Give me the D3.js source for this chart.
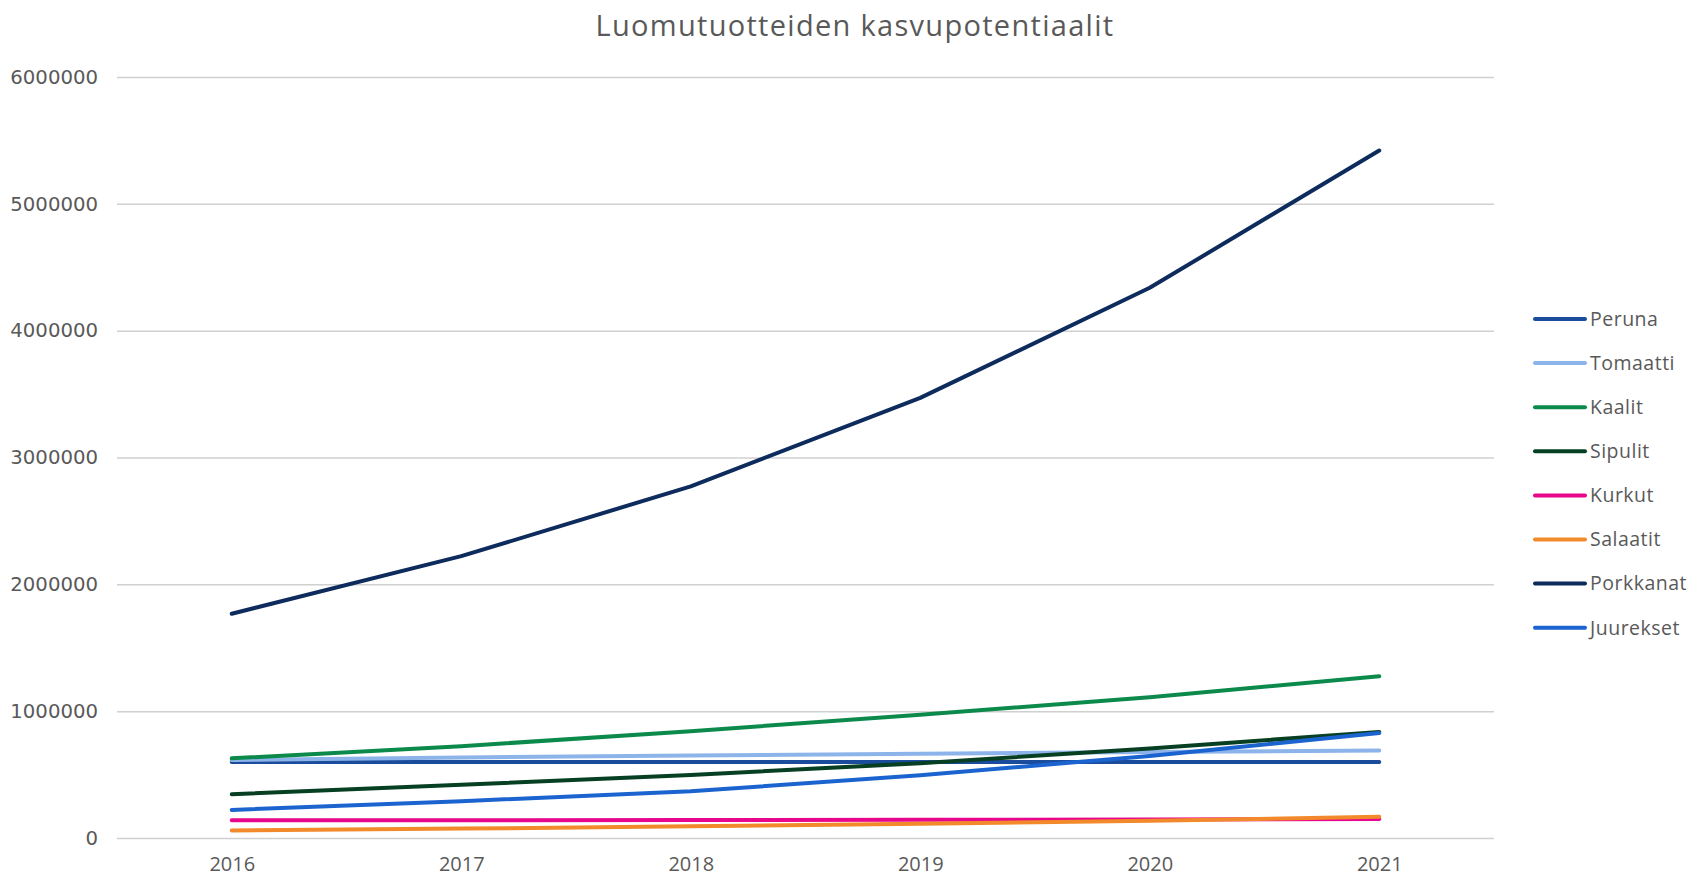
<!DOCTYPE html>
<html>
<head>
<meta charset="utf-8">
<script src="https://cdn.jsdelivr.net/npm/d3@7"></script>
<style>
  body { margin: 0; background: #fff; }
  svg { display: block; }
</style>
</head>
<body>
<svg id="chart" width="1703" height="880"></svg>
<script>
// data
var years = ["2016", "2017", "2018", "2019", "2020", "2021"];
var yTicks = [0, 1000000, 2000000, 3000000, 4000000, 5000000, 6000000];

var peruna    = [600000, 600000, 600000, 600000, 600000, 600000];
var tomaatti  = [615000, 635000, 650000, 664000, 678000, 690000];
var kaalit    = [628000, 724000, 842000, 972000, 1110000, 1275000];
var sipulit   = [345000, 420000, 497000, 590000, 705000, 836000];
var kurkut    = [139000, 140000, 141000, 143000, 145000, 149000];
var salaatit  = [60000, 74000, 92000, 113000, 136000, 167000];
var porkkanat = [1768000, 2222000, 2772000, 3470000, 4338000, 5420000];
var juurekset = [221000, 290000, 368000, 495000, 647000, 828000];

var seriesNames = ["Peruna", "Tomaatti", "Kaalit", "Sipulit", "Kurkut", "Salaatit", "Porkkanat", "Juurekset"];
var seriesValues = [peruna, tomaatti, kaalit, sipulit, kurkut, salaatit, porkkanat, juurekset];
var seriesColors = ["#1b4c9b", "#8db4ea", "#0b8a4c", "#063f22", "#e8078c", "#f2892a", "#0d2b5c", "#1b63cf"];

var svg = d3.select("#chart");

var margins = { top: 77, bottom: 42, left: 117, right: 209 };
var width = 1703 - margins.left - margins.right;
var height = 880 - margins.top - margins.bottom;

var x = d3.scalePoint().domain(years).range([0, width]).padding(0.5);
var y = d3.scaleLinear().domain([0, 6000000]).range([height, 0]);

var textColor = "#595959";

// title
svg.append("text")
    .attr("x", 855)
    .attr("y", 36)
    .attr("text-anchor", "middle")
    .style("font-family", "'Open Sans', sans-serif")
    .style("font-size", "29px")
    .style("letter-spacing", "1.3px")
    .style("fill", textColor)
    .text("Luomutuotteiden kasvupotentiaalit");

var g = svg.append("g")
    .attr("transform", "translate(" + margins.left + "," + margins.top + ")");

// gridlines
g.append("g")
    .call(d3.axisLeft(y).tickValues(yTicks).tickSize(-width).tickFormat(""))
    .call(a => a.select(".domain").remove())
    .call(a => a.selectAll("line").attr("stroke", "#d0d0d0").attr("stroke-width", 1.5));

// y labels
g.append("g")
    .call(d3.axisLeft(y).tickValues(yTicks).tickSize(0).tickPadding(19).tickFormat(d3.format("d")))
    .call(a => a.select(".domain").remove())
    .call(a => a.selectAll("text")
        .style("font-family", "'DejaVu Sans', sans-serif")
        .style("font-size", "19.7px")
        .style("fill", textColor));

// x labels
g.append("g")
    .attr("transform", "translate(0," + height + ")")
    .call(d3.axisBottom(x).tickSize(0).tickPadding(19))
    .call(a => a.select(".domain").remove())
    .call(a => a.selectAll("text")
        .style("font-family", "'Open Sans', sans-serif")
        .style("font-size", "20px")
        .style("fill", textColor));

// lines
var line = d3.line()
    .x((d, i) => x(years[i]))
    .y(d => y(d));

g.selectAll(".series")
    .data(seriesValues)
    .enter().append("path")
    .attr("class", "series")
    .attr("d", line)
    .attr("fill", "none")
    .attr("stroke", (d, i) => seriesColors[i])
    .attr("stroke-width", 4)
    .attr("stroke-linecap", "round")
    .attr("stroke-linejoin", "round");

// legend
var legend = svg.selectAll(".legend")
    .data(seriesNames)
    .enter().append("g")
    .attr("class", "legend")
    .attr("transform", (d, i) => "translate(1535," + (319 + i * 44.1) + ")");

legend.append("line")
    .attr("x1", 0)
    .attr("x2", 50)
    .attr("stroke", (d, i) => seriesColors[i])
    .attr("stroke-width", 4)
    .attr("stroke-linecap", "round");

legend.append("text")
    .attr("x", 55)
    .attr("dy", ".35em")
    .style("font-family", "'Open Sans', sans-serif")
    .style("font-size", "19.5px")
    .style("letter-spacing", "0.5px")
    .style("fill", textColor)
    .text(d => d);
</script>
</body>
</html>
